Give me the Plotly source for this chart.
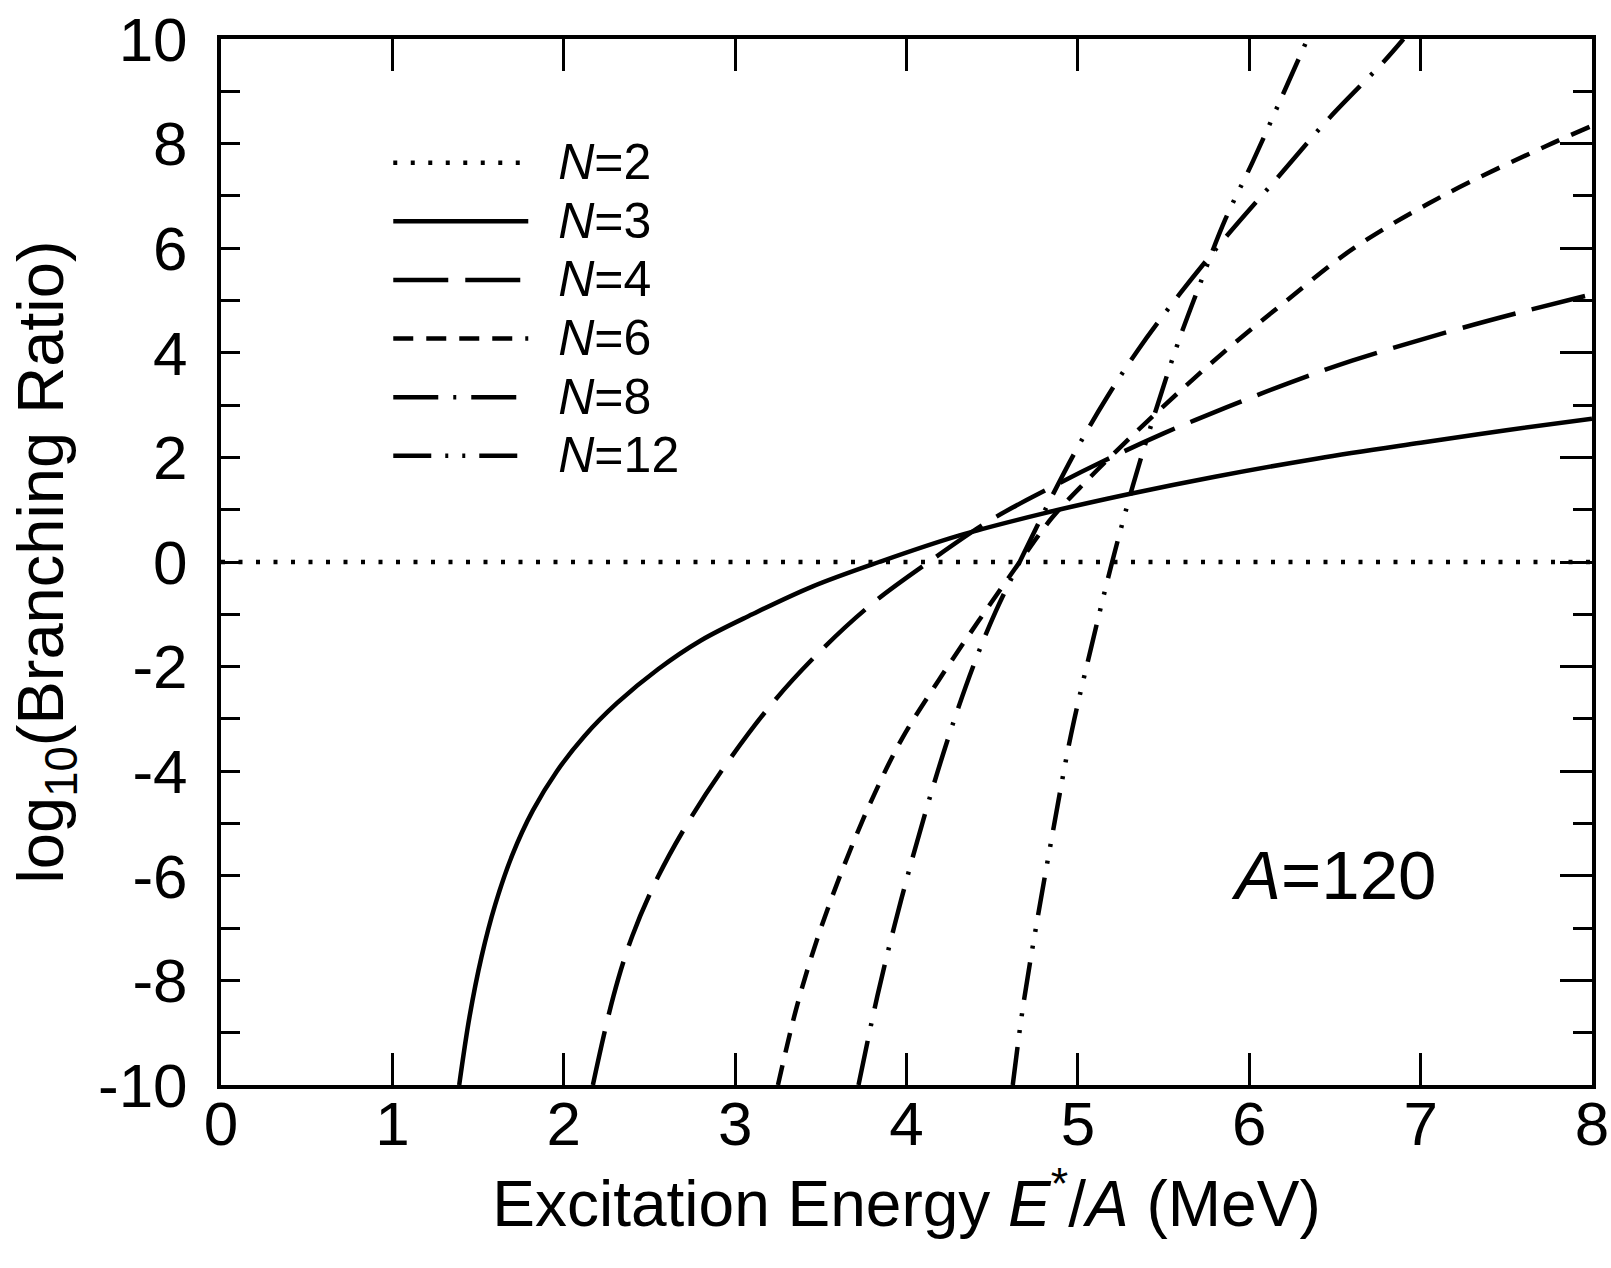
import plotly.graph_objects as go

# ---- data ----
n2_x = [0.0, 8.0]
n2_y = [0.0, 0.0]

n3_x = [1.39, 1.45, 1.52, 1.60, 1.70, 1.82, 1.96, 2.12, 2.31, 2.55, 2.80, 3.10, 3.45, 3.84,
        4.30, 4.80, 5.30, 5.80, 6.40, 7.00, 7.50, 8.00]
n3_y = [-10.0, -8.7, -7.55, -6.55, -5.6, -4.75, -4.0, -3.33, -2.7, -2.05, -1.5, -1.0, -0.47, 0.0,
        0.5, 0.93, 1.30, 1.63, 1.98, 2.28, 2.52, 2.74]

n4_x = [2.17, 2.29, 2.40, 2.55, 2.74, 2.96, 3.23, 3.52, 3.81, 4.13, 4.49, 4.84, 5.15, 5.50,
        5.87, 6.23, 6.60, 7.16, 7.60, 8.00]
n4_y = [-10.0, -8.3, -7.15, -6.02, -4.9, -3.81, -2.65, -1.63, -0.77, 0.0, 0.80, 1.42, 1.93, 2.46,
        2.96, 3.42, 3.85, 4.40, 4.79, 5.12]

n6_x = [3.25, 3.36, 3.48, 3.63, 3.79, 3.97, 4.19, 4.42, 4.65, 4.85, 5.05, 5.30, 5.58, 5.89,
        6.20, 6.61, 7.14, 7.73, 8.00]
n6_y = [-10.0, -8.5, -7.2, -5.85, -4.6, -3.4, -2.25, -1.13, -0.05, 0.85, 1.55, 2.36, 3.22, 4.12,
        4.95, 6.0, 7.02, 7.95, 8.34]

n8_x = [3.72, 3.83, 3.93, 4.04, 4.15, 4.27, 4.40, 4.52, 4.66, 4.84, 5.00, 5.17, 5.35, 5.60,
        5.86, 6.16, 6.47, 6.78, 6.90]
n8_y = [-10.0, -8.3, -6.95, -5.6, -4.35, -3.1, -1.9, -0.95, 0.0, 1.2, 2.2, 3.15, 4.05, 5.15,
        6.2, 7.33, 8.5, 9.55, 10.0]

n12_x = [4.62, 4.68, 4.76, 4.86, 4.96, 5.08, 5.20, 5.32, 5.45, 5.58, 5.72, 5.86, 6.02, 6.18, 6.34]
n12_y = [-10.0, -8.5, -6.9, -5.05, -3.3, -1.6, 0.0, 1.45, 2.85, 4.15, 5.38, 6.55, 7.65, 8.82, 10.0]

series = [
    ("N=2", n2_x, n2_y, "4px,13.5px"),
    ("N=3", n3_x, n3_y, "solid"),
    ("N=4", n4_x, n4_y, "55px,17px"),
    ("N=6", n6_x, n6_y, "20px,13px"),
    ("N=8", n8_x, n8_y, "45px,15px,3px,15px"),
    ("N=12", n12_x, n12_y, "38px,14px,3px,14px,3px,14px"),
]

x_ticks = [0, 1, 2, 3, 4, 5, 6, 7, 8]
y_ticks = [-10, -8, -6, -4, -2, 0, 2, 4, 6, 8, 10]

FONT = "Liberation Sans, Arial, Helvetica, sans-serif"


def legend_label(name):
    sym, val = name.split("=")
    return ('<span style="font-size:50px">\u2002<i>' + sym + "</i>=" + val + "</span>")


fig = go.Figure()
for i, (name, xs, ys, dash) in enumerate(series):
    fig.add_trace(go.Scatter(
        x=xs, y=ys, mode="lines", name=legend_label(name), legendgroup=f"g{i}",
        line=dict(color="black", width=4.5, dash=dash, shape="spline", smoothing=1.0),
    ))

# helper (empty) trace for the right-hand axis
fig.add_trace(go.Scatter(x=[], y=[], yaxis="y2", showlegend=False, hoverinfo="skip"))

fig.update_layout(
    width=1611, height=1268,
    margin=dict(l=221, r=19, t=39, b=183, autoexpand=False),
    paper_bgcolor="white", plot_bgcolor="white",
    font=dict(family=FONT, color="black"),
    showlegend=True,
    legend=dict(
        x=0.122, y=0.914, xanchor="left", yanchor="top",
        font=dict(size=42, family=FONT, color="black"),
        itemwidth=135, tracegroupgap=1, traceorder="grouped",
        bgcolor="rgba(0,0,0,0)",
    ),
    xaxis=dict(
        range=[0, 8], tickvals=x_ticks, ticktext=[str(v) for v in x_ticks],
        ticks="inside", ticklen=32, tickwidth=3, tickcolor="black",
        showline=True, linewidth=4, linecolor="black", mirror="ticks",
        showgrid=False, zeroline=False, automargin=False,
        tickfont=dict(size=62, family=FONT), ticklabelstandoff=-18,
        title=dict(text="Excitation Energy <i>E</i><sup>*</sup>/<i>A</i> (MeV)",
                   font=dict(size=64, family=FONT), standoff=14),
    ),
    yaxis=dict(
        range=[-10, 10], tickvals=y_ticks, ticktext=[str(v) for v in y_ticks],
        ticks="inside", ticklen=19, tickwidth=3, tickcolor="black",
        minor=dict(dtick=1, ticks="inside", ticklen=19, tickwidth=3, tickcolor="black"),
        showline=True, linewidth=4, linecolor="black",
        showgrid=False, zeroline=False, automargin=False,
        tickfont=dict(size=62, family=FONT), ticklabelstandoff=17,
        title=dict(text="log<sub>10</sub>(Branching Ratio)",
                   font=dict(size=65, family=FONT), standoff=14),
    ),
    yaxis2=dict(
        range=[-10, 10], overlaying="y", side="right", tickvals=y_ticks,
        ticks="inside", ticklen=32, tickwidth=3, tickcolor="black",
        minor=dict(dtick=1, ticks="inside", ticklen=19, tickwidth=3, tickcolor="black"),
        showline=True, linewidth=4, linecolor="black", automargin=False,
        showgrid=False, zeroline=False, showticklabels=False,
    ),
    annotations=[dict(
        x=6.49, y=-6.0, xref="x", yref="y", text="<i>A</i>=120", showarrow=False,
        font=dict(size=69, family=FONT, color="black"), xanchor="center", yanchor="middle",
    )],
)

fig.write_html("out.html")
